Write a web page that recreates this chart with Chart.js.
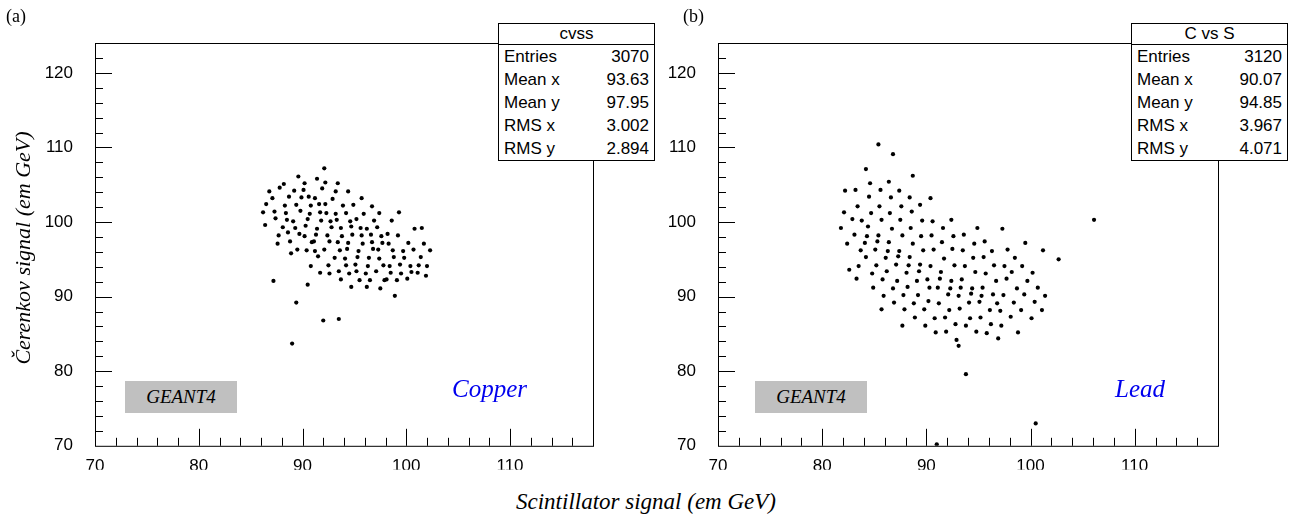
<!DOCTYPE html>
<html><head><meta charset="utf-8">
<script src="https://cdn.jsdelivr.net/npm/chart.js@4"></script>
<style>
body{margin:0;background:#fff;}
#wrap{position:relative;width:1292px;height:517px;font-family:"Liberation Sans",Arial,sans-serif;}
canvas{position:absolute;top:0;}
.lab{position:absolute;font-family:"Liberation Serif",serif;font-size:18px;}
.stats{position:absolute;top:23px;width:155px;border:1px solid #000;background:#fff;font-size:17px;line-height:23px;}
.stats .t{text-align:center;border-bottom:1px solid #000;line-height:20px;}
.stats .r{display:flex;justify-content:space-between;padding:0 5px;}
.geant{position:absolute;top:381px;width:112px;height:32px;background:#c0c0c0;font:italic 19px "Liberation Serif",serif;text-align:center;line-height:32px;}
.mat{position:absolute;top:375px;color:#0000ee;font:italic 25px "Liberation Serif",serif;}
.xt{position:absolute;top:489px;left:0;width:1292px;text-align:center;font:italic 23px "Liberation Serif",serif;}
.yt{position:absolute;left:-97px;top:235px;width:240px;text-align:center;transform:rotate(-90deg);font:italic 22px "Liberation Serif",serif;}
</style></head><body>
<div id="wrap">
<canvas id="ca" width="600" height="470" style="left:0;width:600px;height:470px"></canvas>
<canvas id="cb" width="600" height="470" style="left:623px;width:600px;height:470px"></canvas>
<div class="lab" style="left:6px;top:6px">(a)</div>
<div class="lab" style="left:683px;top:6px">(b)</div>
<div class="yt">Čerenkov signal (em GeV)</div>
<div class="xt">Scintillator signal (em GeV)</div>
<div class="geant" style="left:125px">GEANT4</div>
<div class="geant" style="left:755px">GEANT4</div>
<div class="mat" style="left:452px">Copper</div>
<div class="mat" style="left:1115px">Lead</div>
<div class="stats" id="sa" style="left:498px"></div>
<div class="stats" id="sb" style="left:1131px"></div>
</div>
<script>
// Copper: [x, y] pairs
const copperPoints = [
[86.2,101.3],[86.5,102.4],[86.8,104.1],[86.4,99.6],[87.1,103.2],[87.4,100.5],[87.7,98.2],[87.3,101.4],[87.8,104.6],[87.6,97.1],[87.2,92.1],
[88.1,99.3],[88.4,101.2],[88.7,103.4],[88.2,105.1],[88.5,100.3],[88.8,97.4],[88.3,102.2],[88.9,95.8],[88.6,98.6],
[89.1,100.1],[89.4,102.3],[89.7,98.4],[89.2,104.2],[89.5,96.3],[89.8,101.5],[89.3,99.2],[89.6,106.1],[89.9,103.3],[89.0,83.7],[89.4,89.2],
[90.2,98.1],[90.5,100.4],[90.8,102.2],[90.1,104.3],[90.4,96.2],[90.7,101.1],[90.3,99.5],[90.9,97.3],[90.6,103.4],[90.2,105.2],[90.8,94.1],[90.5,91.6],
[91.1,97.4],[91.4,99.1],[91.7,101.3],[91.2,103.2],[91.5,95.4],[91.8,100.2],[91.3,98.3],[91.6,102.4],[91.9,104.5],[91.2,96.1],[91.7,93.2],[91.4,105.8],
[92.1,96.3],[92.4,98.2],[92.7,100.1],[92.2,102.4],[92.5,94.2],[92.8,99.3],[92.3,101.2],[92.6,97.4],[92.9,103.1],[92.2,105.3],[92.6,93.1],[92.1,107.2],[92.0,86.8],
[93.1,95.2],[93.4,97.3],[93.7,99.2],[93.2,101.1],[93.5,93.4],[93.8,98.1],[93.3,100.3],[93.6,96.2],[93.9,102.2],[93.2,104.1],[93.7,92.3],[93.4,105.2],[93.5,87.0],
[94.1,95.1],[94.4,97.2],[94.7,99.4],[94.2,101.2],[94.5,93.1],[94.8,98.3],[94.3,96.4],[94.6,100.1],[94.9,102.3],[94.2,94.2],[94.7,91.3],[94.4,104.1],
[95.1,94.3],[95.4,96.1],[95.7,98.2],[95.2,100.4],[95.5,92.2],[95.8,97.1],[95.3,95.3],[95.6,99.2],[95.9,101.1],[95.2,93.4],[95.7,103.2],
[96.1,93.1],[96.4,95.2],[96.7,97.3],[96.2,99.1],[96.5,92.2],[96.8,96.4],[96.3,94.1],[96.6,98.3],[96.9,100.2],[96.2,91.3],[96.7,102.1],
[97.1,93.4],[97.4,95.1],[97.7,97.2],[97.2,99.3],[97.5,91.1],[97.8,94.2],[97.3,96.3],[97.6,98.1],[97.9,92.2],[97.4,101.2],
[98.1,92.3],[98.4,94.1],[98.7,96.2],[98.2,98.4],[98.5,93.2],[98.8,95.3],[98.3,97.1],[98.6,100.2],[98.9,90.1],
[99.1,92.2],[99.4,94.3],[99.7,96.1],[99.2,98.2],[99.5,93.1],[99.8,95.2],[99.3,101.3],
[100.1,92.4],[100.4,94.1],[100.7,96.3],[100.2,97.2],[100.5,93.3],[100.8,99.1],
[101.1,93.2],[101.4,95.3],[101.7,97.1],[101.2,94.2],[101.5,99.2],
[102.0,94.1],[102.3,96.2],[101.9,92.8]
];
// Lead: [x, y] pairs
const leadPoints = [
[81.8,99.2],[82.1,101.3],[82.4,97.1],[82.2,104.2],[82.6,93.6],[82.9,100.4],
[83.1,98.3],[83.4,102.1],[83.7,96.2],[83.2,104.3],[83.5,94.1],[83.8,100.2],[83.3,92.4],
[84.1,97.2],[84.4,99.4],[84.7,101.2],[84.2,95.3],[84.5,103.4],[84.8,93.1],[84.3,98.1],[84.6,105.2],[84.9,91.2],[84.2,107.1],
[85.1,96.3],[85.4,98.2],[85.7,100.3],[85.2,94.2],[85.5,102.1],[85.8,92.3],[85.3,97.4],[85.6,104.3],[85.9,90.1],[85.4,110.4],[85.7,88.3],
[86.1,95.2],[86.4,97.3],[86.7,99.1],[86.2,93.4],[86.5,101.2],[86.8,91.1],[86.3,96.1],[86.6,103.3],[86.9,89.2],[86.4,105.4],[86.8,109.1],
[87.1,94.3],[87.4,96.1],[87.7,98.2],[87.2,92.1],[87.5,100.3],[87.8,90.2],[87.3,95.4],[87.6,102.1],[87.9,88.3],[87.4,104.2],[87.7,86.1],
[88.1,93.2],[88.4,95.3],[88.7,97.1],[88.2,91.3],[88.5,99.2],[88.8,89.1],[88.3,94.2],[88.6,101.4],[88.9,87.2],[88.4,103.3],[88.7,106.2],
[89.1,92.1],[89.4,94.3],[89.7,96.2],[89.2,90.2],[89.5,98.1],[89.8,88.3],[89.3,93.4],[89.6,100.2],[89.9,86.1],[89.4,102.3],
[90.1,92.3],[90.4,94.1],[90.7,96.3],[90.2,89.4],[90.5,98.2],[90.8,87.1],[90.3,91.2],[90.6,100.1],[90.9,85.2],[90.4,103.2],
[91.1,91.2],[91.4,93.3],[91.7,95.1],[91.2,89.1],[91.5,97.3],[91.8,87.2],[91.3,92.4],[91.6,99.2],[91.9,85.3],[91.0,70.2],
[92.1,90.3],[92.4,92.1],[92.7,94.2],[92.2,88.2],[92.5,96.4],[92.8,86.3],[92.3,91.1],[92.6,98.1],[92.9,84.2],[92.4,100.3],
[93.1,90.1],[93.4,92.3],[93.7,94.1],[93.2,88.4],[93.5,96.2],[93.8,86.1],[93.3,91.2],[93.6,98.3],[93.8,79.6],[93.1,83.4],
[94.1,89.2],[94.4,91.1],[94.7,93.3],[94.2,87.1],[94.5,95.2],[94.8,85.3],[94.3,90.4],[94.6,97.1],[94.9,99.2],
[95.1,89.3],[95.4,91.2],[95.7,93.1],[95.2,87.2],[95.5,95.3],[95.8,85.1],[95.3,90.1],[95.6,97.4],
[96.1,88.2],[96.4,90.3],[96.7,92.1],[96.2,86.3],[96.5,94.2],[96.8,89.1],[96.3,96.1],[96.9,84.4],
[97.1,88.1],[97.4,90.2],[97.7,92.4],[97.2,86.1],[97.5,94.1],[97.8,96.3],[97.3,99.1],
[98.1,87.3],[98.4,89.2],[98.7,91.1],[98.2,93.3],[98.5,95.2],[98.8,85.2],
[99.1,88.2],[99.4,90.3],[99.7,92.1],[99.2,94.1],[99.5,97.2],
[100.1,87.1],[100.4,89.3],[100.7,91.2],[100.2,93.2],[100.5,73.0],
[101.1,88.2],[101.4,90.1],[101.2,96.2],[102.7,95.0],[106.1,100.3]
];
const xTicks = [70, 80, 90, 100, 110];
const yTicks = [70, 80, 90, 100, 110, 120];
const statsA = ['cvss', ['Entries','3070'], ['Mean x','93.63'], ['Mean y','97.95'], ['RMS x','3.002'], ['RMS y','2.894']];
const statsB = ['C vs S', ['Entries','3120'], ['Mean x','90.07'], ['Mean y','94.85'], ['RMS x','3.967'], ['RMS y','4.071']];

function fillStats(id, s) {
  const el = document.getElementById(id);
  el.innerHTML = '<div class="t">' + s[0] + '</div>' +
    s.slice(1).map(r => '<div class="r"><span>' + r[0] + '</span><span>' + r[1] + '</span></div>').join('');
}
fillStats('sa', statsA);
fillStats('sb', statsB);

// ROOT-style frame with inward ticks
const frame = {
  id: 'frame',
  afterDraw(chart) {
    const { ctx, chartArea: a, scales: { x, y } } = chart;
    ctx.save();
    ctx.strokeStyle = '#000';
    ctx.lineWidth = 1;
    ctx.strokeRect(a.left + .5, a.top + .5, a.right - a.left, a.bottom - a.top);
    ctx.beginPath();
    for (let v = 72; v <= 118; v += 2) {
      const p = Math.round(x.getPixelForValue(v)) + .5;
      const len = v % 10 === 0 ? 17 : 8;
      ctx.moveTo(p, a.bottom); ctx.lineTo(p, a.bottom - len);
    }
    for (let v = 72; v <= 124; v += 2) {
      const p = Math.round(y.getPixelForValue(v)) + .5;
      const len = v % 10 === 0 ? 17 : 8;
      ctx.moveTo(a.left, p); ctx.lineTo(a.left + len, p);
    }
    ctx.stroke();
    ctx.restore();
  }
};

function scatter(id, points, right) {
  new Chart(document.getElementById(id), {
    type: 'scatter',
    data: { datasets: [{ data: points.map(p => ({ x: p[0], y: p[1] })), backgroundColor: '#000', borderWidth: 0, pointRadius: 2.1 }] },
    options: {
      responsive: false, animation: false,
      layout: { padding: { top: 43, right: right } },
      plugins: { legend: { display: false }, tooltip: { enabled: false } },
      scales: {
        x: { type: 'linear', min: 70, max: 118, afterFit: s => { s.height = 24; },
          afterBuildTicks: s => { s.ticks = xTicks.map(v => ({ value: v })); },
          grid: { display: false }, border: { display: false },
          ticks: { color: '#000', font: { size: 17, family: 'Liberation Sans' }, padding: 2 } },
        y: { type: 'linear', min: 70, max: 124, afterFit: s => { s.width = 95; },
          afterBuildTicks: s => { s.ticks = yTicks.map(v => ({ value: v })); },
          grid: { display: false }, border: { display: false },
          ticks: { color: '#000', font: { size: 17, family: 'Liberation Sans' }, padding: 14 } }
      }
    },
    plugins: [frame]
  });
}
scatter('ca', copperPoints, 7);
scatter('cb', leadPoints, 5);
</script>
</body></html>
